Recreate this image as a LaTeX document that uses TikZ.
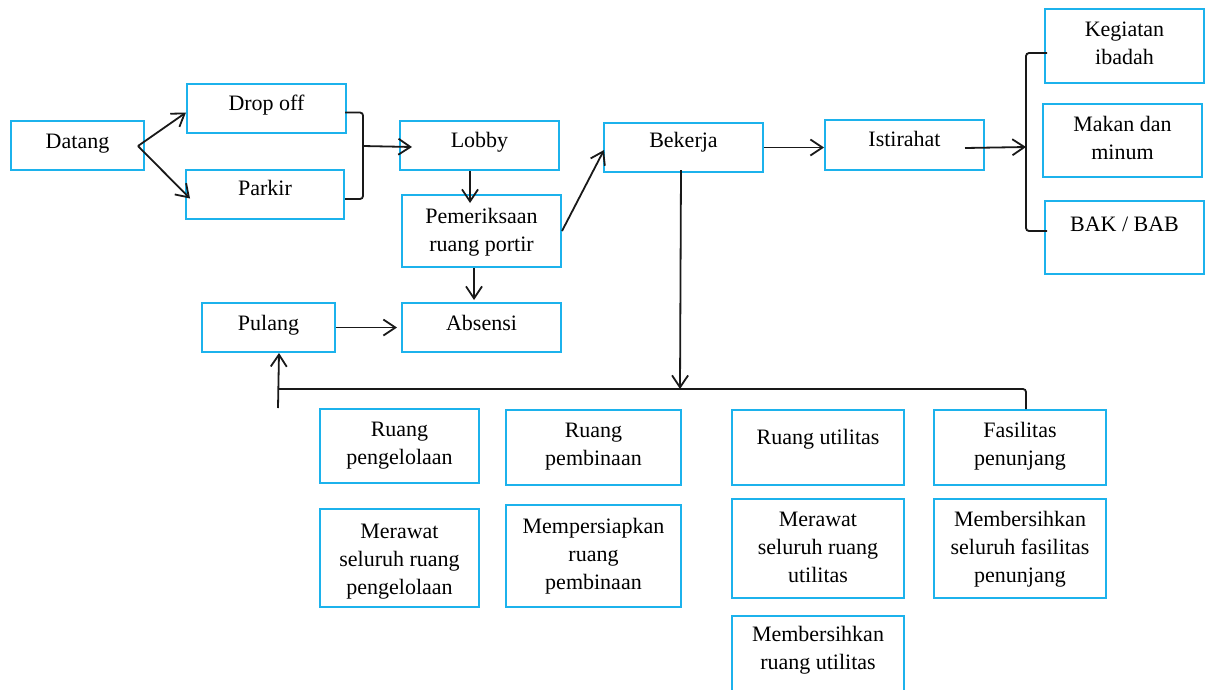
\documentclass[tikz,border=0pt]{standalone}
\usepackage{fontspec}
\setmainfont{Liberation Serif}
\usetikzlibrary{arrows.meta,calc}
\definecolor{boxblue}{RGB}{28,178,236}
% box text: width, height, first-baseline drop, lines
\newcommand\boxtxt[4]{\parbox[c][#2pt][t]{#1pt}{\centering\rule{0pt}{#3pt}#4\par}}

\begin{document}
\begin{tikzpicture}[x=1pt,y=-1pt,
  box/.style={draw=boxblue, line width=2pt, inner sep=0pt, anchor=north west,
              font=\fontsize{22}{28}\selectfont},
  link/.style={draw=black!90, line width=1.8pt, rounded corners=3pt},
  arr/.style={link, -{Straight Barb[length=12pt,width=16pt]}}]
\clip (0,0) rectangle (1205,689);
\fill[white] (0,0) rectangle (1205,689);

% arrival and entry
\node[box] (datang) at (10,120) {\boxtxt{133}{49}{27}{Datang}};
\node[box] (dropoff) at (186,83) {\boxtxt{159}{49}{26}{Drop off}};
\node[box] (parkir) at (185,169) {\boxtxt{158}{49}{25}{Parkir}};
\node[box] (lobby) at (399,120) {\boxtxt{159}{49}{26}{Lobby}};
\node[box] (portir) at (401,194) {\boxtxt{159}{72}{28}{Pemeriksaan\\ruang portir}};
\node[box] (absensi) at (401,302) {\boxtxt{159}{49}{27}{Absensi}};
\node[box] (pulang) at (201,302) {\boxtxt{133}{49}{27}{Pulang}};

% work and breaks
\node[box] (bekerja) at (603,122) {\boxtxt{159}{49}{24}{Bekerja}};
\node[box] (istirahat) at (824,119) {\boxtxt{159}{50}{26}{Istirahat}};
\node[box] (ibadah) at (1044,8) {\boxtxt{159}{74}{27}{Kegiatan\\ibadah}};
\node[box] (makan) at (1042,103) {\boxtxt{159}{73}{27}{Makan dan\\minum}};
\node[box] (bak) at (1044,200) {\boxtxt{159}{73}{30}{BAK / BAB}};

% work areas and tasks
\node[box] (pengelolaan) at (319,408) {\boxtxt{159}{74}{27}{Ruang\\pengelolaan}};
\node[box] (pembinaan) at (505,409) {\boxtxt{175}{75}{27}{Ruang\\pembinaan}};
\node[box] (utilitas) at (731,409) {\boxtxt{172}{75}{34}{Ruang utilitas}};
\node[box] (fasilitas) at (933,409) {\boxtxt{172}{75}{27}{Fasilitas\\penunjang}};
\node[box] (rawatkelola) at (319,508) {\boxtxt{159}{98}{29}{Merawat\\seluruh ruang\\pengelolaan}};
\node[box] (siapbina) at (505,504) {\boxtxt{175}{102}{28}{Mempersiapkan\\ruang\\pembinaan}};
\node[box] (rawatutil) at (731,498) {\boxtxt{172}{99}{27}{Merawat\\seluruh ruang\\utilitas}};
\node[box] (bersihfas) at (933,498) {\boxtxt{172}{99}{27}{Membersihkan\\seluruh fasilitas\\penunjang}};
\node[box] (bersihutil) at (731,615) {\boxtxt{172}{90}{25}{Membersihkan\\ruang utilitas}};

% junction points
\coordinate (fork) at ($(datang.east)+(-7,0.5)$);
\coordinate (join) at (363,146);
\coordinate (rest) at (1026,147);
\coordinate (busL) at (278,389);
\coordinate (busR) at (1026,389);
\coordinate (hub) at (680,389);
\coordinate (stub) at (278,408);

% entry flow
\draw[arr] (fork) -- ($(dropoff.west)+(0,4)$);
\draw[arr] (fork) -- ($(parkir.west)+(5,4)$);
\draw[link] ($(dropoff.east)+(-2,4)$) -| (join) |- ($(parkir.east)+(0,4.5)$);
\draw[arr] (join) -- ($(lobby.west)+(13,1.5)$);
\draw[arr] ($(lobby.south)+(-9.5,0)$) -- ($(portir.north)+(-11.5,9)$);
\draw[arr] ($(portir.south)+(-7.5,0)$) -- ($(absensi.north)+(-7.5,-2)$);
\draw[arr] (pulang.east) -- ($(absensi.west)+(-4,0)$);
\draw[arr] (portir.east) -- ($(bekerja.west)+(1,2.5)$);

% breaks
\draw[arr] (bekerja.east) -- (istirahat.west |- bekerja.east);
\draw[arr] ($(istirahat.east)+(-20,3)$) -- (rest);
\draw[link] ($(ibadah.west)+(3,7)$) -| (rest) |- ($(bak.west)+(3,-6.5)$);

% distribution to work areas and return home
\draw[arr] ($(bekerja.south)+(-2.5,-3)$) -- (hub);
\draw[link] (busL) -- (busR) -- (busR |- fasilitas.north);
\draw[link] ($(pengelolaan.north)+(1.5,0)$) -- ($(pengelolaan.north)+(1.5,0)$ |- busL);
\draw[arr] (stub) -- ($(pulang.south)+(10.5,0)$);
\end{tikzpicture}
\end{document}
